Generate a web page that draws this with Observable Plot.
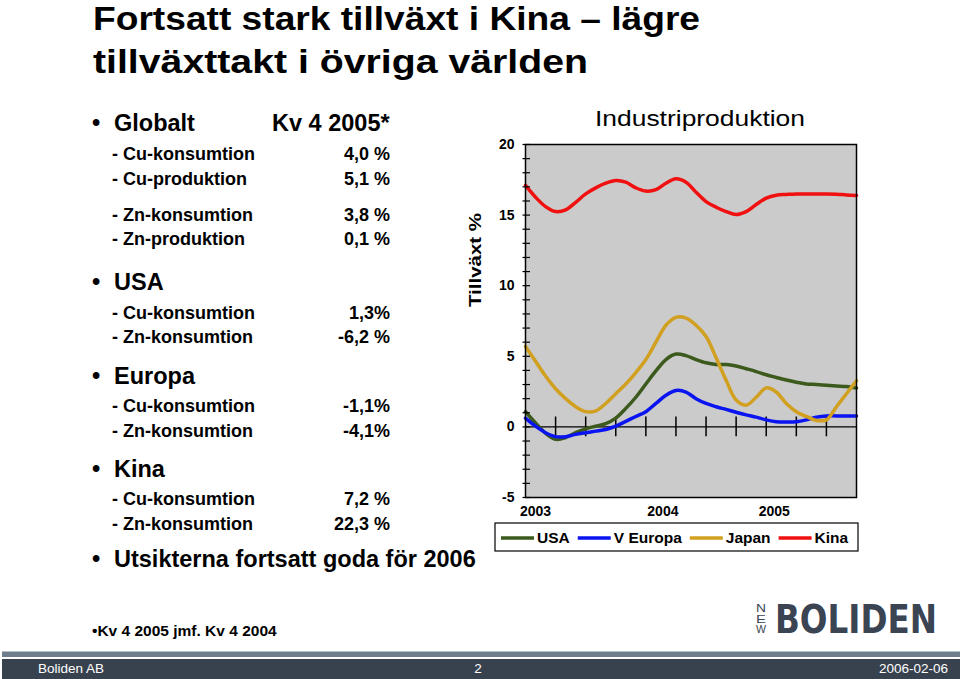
<!DOCTYPE html>
<html><head><meta charset="utf-8">
<script src="https://cdn.jsdelivr.net/npm/d3@7"></script>
<script src="https://cdn.jsdelivr.net/npm/@observablehq/plot@0.6"></script>
<style>
body{margin:0;background:#fff;}
#page{position:relative;width:960px;height:679px;overflow:hidden;font-family:"Liberation Sans",Arial,sans-serif;background:#fff;}
#chart{position:absolute;left:460px;top:130px;}
#overlay{position:absolute;left:0;top:0;}
</style></head><body>
<div id="page">
<div id="chart"></div>
<svg id="overlay" width="960" height="679" font-family="Liberation Sans, Arial, sans-serif">
  <g font-weight="bold" fill="#000">
    <text x="93" y="30" font-size="32.5" textLength="607" lengthAdjust="spacingAndGlyphs">Fortsatt stark tillväxt i Kina – lägre</text>
    <text x="93" y="72.5" font-size="32.5" textLength="495" lengthAdjust="spacingAndGlyphs">tillväxttakt i övriga världen</text>
  </g>
  <g font-weight="bold" fill="#000" font-size="23.5">
    <text x="92" y="131">•</text><text x="114" y="131">Globalt</text>
    <text x="272" y="131">Kv 4 2005*</text>
    <text x="92" y="290">•</text><text x="114" y="290">USA</text>
    <text x="92" y="384">•</text><text x="114" y="384">Europa</text>
    <text x="92" y="477">•</text><text x="114" y="477">Kina</text>
    <text x="92" y="567">•</text><text x="114" y="567">Utsikterna fortsatt goda för 2006</text>
  </g>
  <g font-weight="bold" fill="#000" font-size="18">
    <text x="112" y="160">- Cu-konsumtion</text><text x="390" y="160" text-anchor="end">4,0 %</text>
    <text x="112" y="185">- Cu-produktion</text><text x="390" y="185" text-anchor="end">5,1 %</text>
    <text x="112" y="220.5">- Zn-konsumtion</text><text x="390" y="220.5" text-anchor="end">3,8 %</text>
    <text x="112" y="245">- Zn-produktion</text><text x="390" y="245" text-anchor="end">0,1 %</text>
    <text x="112" y="319">- Cu-konsumtion</text><text x="390" y="319" text-anchor="end">1,3%</text>
    <text x="112" y="343">- Zn-konsumtion</text><text x="390" y="343" text-anchor="end">-6,2 %</text>
    <text x="112" y="412">- Cu-konsumtion</text><text x="390" y="412" text-anchor="end">-1,1%</text>
    <text x="112" y="437">- Zn-konsumtion</text><text x="390" y="437" text-anchor="end">-4,1%</text>
    <text x="112" y="505">- Cu-konsumtion</text><text x="390" y="505" text-anchor="end">7,2 %</text>
    <text x="112" y="530">- Zn-konsumtion</text><text x="390" y="530" text-anchor="end">22,3 %</text>
  </g>
  <text x="92" y="636" font-size="15.5" font-weight="bold">•Kv 4 2005 jmf. Kv 4 2004</text>
  <text x="595" y="126" font-size="22" textLength="210" lengthAdjust="spacingAndGlyphs">Industriproduktion</text>
  <g fill="#3a4452">
    <g transform="translate(775,633) scale(1,1.22)">
      <text x="0" y="0" font-family="DejaVu Sans" font-weight="bold" font-size="32.6" textLength="162" lengthAdjust="spacingAndGlyphs">BOLIDEN</text>
    </g>
    <text x="756" y="612" font-size="10" textLength="10" lengthAdjust="spacingAndGlyphs">N</text>
    <text x="756" y="622.5" font-size="10" textLength="10" lengthAdjust="spacingAndGlyphs">E</text>
    <text x="756" y="633" font-size="10" textLength="10" lengthAdjust="spacingAndGlyphs">W</text>
  </g>
  <rect x="2" y="651.5" width="958" height="5.5" fill="#6e7e8c"/>
  <rect x="2" y="659" width="958" height="20" fill="#38424f"/>
  <g fill="#fff" font-size="13.5">
    <text x="38" y="673">Boliden AB</text>
    <text x="478" y="673" text-anchor="middle">2</text>
    <text x="948" y="673" text-anchor="end">2006-02-06</text>
  </g>
  <g id="legend"></g>
</svg>
</div>
<script>
// Series (growth in industrial production, %), monthly from Jan 2003
const seriesNames = ["USA", "V Europa", "Japan", "Kina"];
const seriesColors = ["#3b5a1c", "#0a14f0", "#d1a020", "#f01010"];
const months = [0,1,2,3,4,5,6,7,8,9,10,11,12,13,14,15,16,17,18,19,20,21,22,23,24,25,26,27,28,29,30,31,32,33];
const usa = [1.08,0.28,-0.45,-0.88,-0.76,-0.41,-0.14,0.05,0.23,0.62,1.31,2.1,3.04,3.96,4.77,5.16,5.05,4.77,4.54,4.42,4.42,4.31,4.12,3.92,3.69,3.5,3.32,3.16,3.04,3.0,2.95,2.9,2.86,2.76];
const vEuropa = [0.62,0.05,-0.41,-0.69,-0.69,-0.53,-0.41,-0.3,-0.18,0.05,0.39,0.74,1.08,1.66,2.24,2.58,2.47,2.0,1.66,1.43,1.24,1.04,0.85,0.69,0.5,0.37,0.35,0.37,0.5,0.69,0.78,0.78,0.78,0.78];
const japan = [5.7,4.65,3.6,2.7,2.0,1.43,1.08,1.13,1.66,2.35,3.04,3.85,4.77,6.0,7.2,7.76,7.7,7.2,6.4,4.9,3.3,1.9,1.54,2.1,2.76,2.47,1.66,1.08,0.74,0.46,0.5,1.43,2.35,3.27];
const kina = [17.1,16.27,15.6,15.25,15.37,15.9,16.5,16.93,17.26,17.45,17.33,16.93,16.7,16.8,17.26,17.57,17.33,16.62,15.96,15.56,15.25,15.04,15.25,15.75,16.2,16.41,16.46,16.5,16.5,16.5,16.5,16.48,16.43,16.39];

// Axis ticks and labels
const yLabelTicks = [-5, 0, 5, 10, 15, 20];
const yMinorTicks = [-5,-4,-3,-2,-1,0,1,2,3,4,5,6,7,8,9,10,11,12,13,14,15,16,17,18,19,20];
const quarterTicks = [3, 6, 9, 12, 15, 18, 21, 24, 27, 30];
const yearTickPos = [1, 13.7, 24.8];
const yearLabels = ["2003", "2004", "2005"];
const yTitle = "Tillväxt %";

const seriesValues = [usa, vEuropa, japan, kina];
const rows = seriesNames.flatMap((name, i) =>
  seriesValues[i].map((v, j) => ({series: name, month: months[j], value: v})));

const xDom = [months[0], months[months.length - 1]];
const yDom = [yLabelTicks[0], yLabelTicks[yLabelTicks.length - 1]];

const chart = Plot.plot({
  width: 410, height: 395,
  marginLeft: 65, marginRight: 14, marginTop: 14, marginBottom: 28,
  style: {fontFamily: "Liberation Sans, Arial, sans-serif", background: "transparent", overflow: "visible"},
  x: {domain: xDom, axis: null},
  y: {domain: yDom, axis: null},
  color: {domain: seriesNames, range: seriesColors},
  marks: [
    Plot.frame({fill: "#cbcbcb"}),
    Plot.ruleY([0], {stroke: "black", strokeWidth: 1.2}),
    Plot.ruleX(quarterTicks, {y1: () => -0.7, y2: () => 0.7, stroke: "black", strokeWidth: 1.5}),
    Plot.line(rows, {x: "month", y: "value", z: "series", stroke: "series", strokeWidth: 3.5, curve: "catmull-rom"}),
    Plot.frame({stroke: "black", strokeWidth: 1.5}),
    Plot.ruleY(yMinorTicks, {x1: () => xDom[0] - 0.25, x2: () => xDom[0] + 0.5, stroke: "black", strokeWidth: 1.2}),
    Plot.axisY(yLabelTicks, {anchor: "left", label: null, tickSize: 0, tickPadding: 11, tickFormat: d => String(d), fontSize: 14, fontWeight: "bold", fill: "black"}),
    Plot.text(yearLabels, {x: (d, i) => yearTickPos[i], y: () => yDom[0], text: d => d, dy: 14, fontSize: 14, fontWeight: "bold", fill: "black"}),
    Plot.text([yTitle], {frameAnchor: "left", text: d => d, dx: -50, dy: -14, rotate: -90, fontSize: 17, fontWeight: "bold", fill: "black"})
  ]
});
document.getElementById("chart").appendChild(chart);
chart.querySelectorAll("text").forEach(t => {
  if (t.textContent === yTitle) { t.setAttribute("textLength", 94); t.setAttribute("lengthAdjust", "spacingAndGlyphs"); }
});

// Legend with line swatches, built from the series arrays
const lg = d3.select("#legend");
lg.append("rect").attr("x", 495).attr("y", 523).attr("width", 363).attr("height", 28)
  .attr("fill", "#fff").attr("stroke", "#000").attr("stroke-width", 1.2);
let lx = 501;
seriesNames.forEach((name, i) => {
  lg.append("line").attr("x1", lx).attr("x2", lx + 33).attr("y1", 538).attr("y2", 538)
    .attr("stroke", seriesColors[i]).attr("stroke-width", 3.5);
  const t = lg.append("text").attr("x", lx + 36).attr("y", 538).attr("dy", "0.35em")
    .attr("font-size", 15.5).attr("font-weight", "bold").text(name);
  lx = lx + 36 + t.node().getComputedTextLength() + 8;
});
</script>
</body></html>
